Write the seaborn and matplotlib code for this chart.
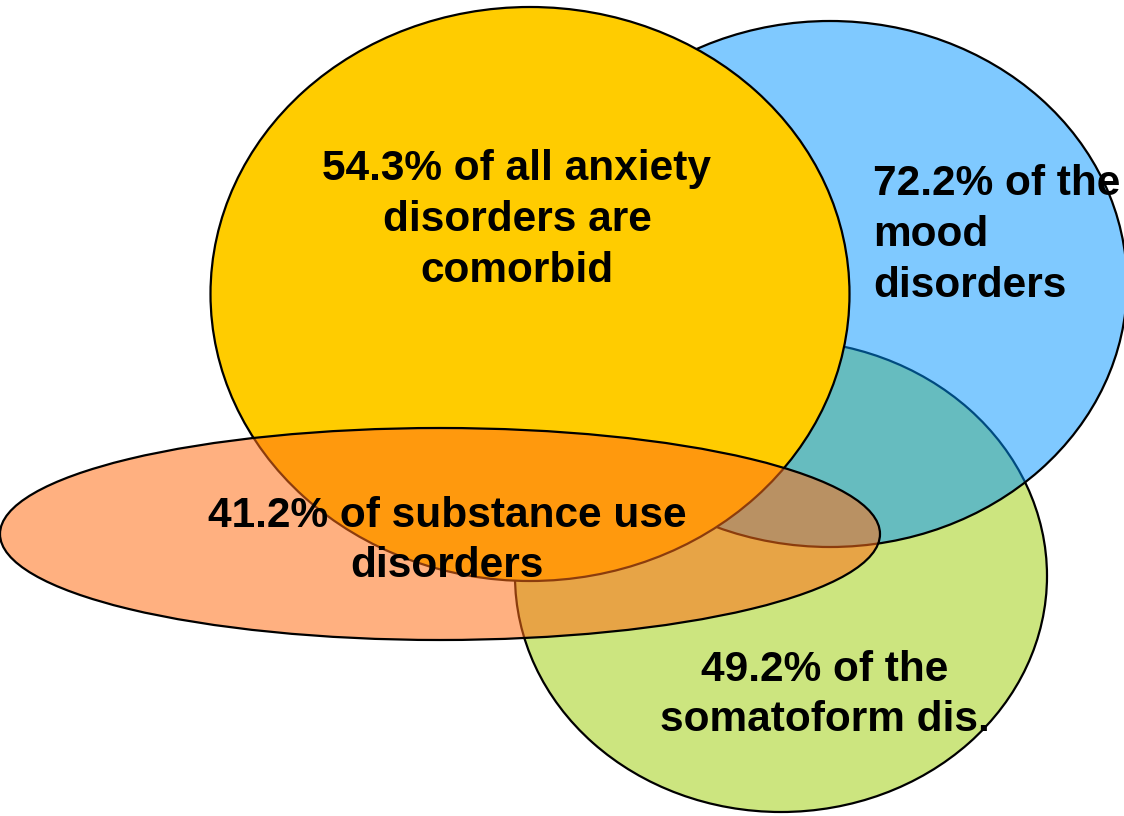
import matplotlib
matplotlib.use("Agg")
import matplotlib.pyplot as plt
from matplotlib.patches import Ellipse
import seaborn as sns

# Comorbidity overlap between disorder groups
groups = ["mood", "somatoform", "anxiety", "substance"]
percent = [72.2, 49.2, 54.3, 41.2]
labels = [
    "72.2% of the\nmood\ndisorders",
    "49.2% of the\nsomatoform dis.",
    "54.3% of all anxiety\ndisorders are\ncomorbid",
    "41.2% of substance use\ndisorders",
]

# layout (pixel space of the slide), drawing order: green, blue, yellow, orange
order = ["somatoform", "mood", "anxiety", "substance"]
centers = {"mood": (830, 284), "somatoform": (781, 576),
           "anxiety": (530, 294), "substance": (440, 534)}
sizes = {"mood": (594, 526), "somatoform": (532, 472),
         "anxiety": (639, 574), "substance": (880, 212)}
colors = {"mood": "#0195FF", "somatoform": "#CCE57F",
          "anxiety": "#FFCC00", "substance": "#FF6F18"}
alphas = {"mood": 0.5, "somatoform": 1.0, "anxiety": 1.0, "substance": 0.55}
text_pos = {"mood": (873, 235, "left"), "somatoform": (825, 695, "center"),
            "anxiety": (517, 220, "center"), "substance": (447, 541, "center")}

sns.set_theme(style="white")
plt.rcParams["font.family"] = ["Liberation Sans", "DejaVu Sans"]

fig = plt.figure(figsize=(11.24, 8.16), dpi=100)
ax = fig.add_axes([0, 0, 1, 1])
ax.set_xlim(0, 1124)
ax.set_ylim(816, 0)
ax.axis("off")

for g in order:
    w, h = sizes[g]
    # translucent fill, solid black outline
    ax.add_patch(Ellipse(centers[g], w, h, facecolor=colors[g], alpha=alphas[g],
                         edgecolor="none"))
    ax.add_patch(Ellipse(centers[g], w, h, facecolor="none", edgecolor="black",
                         linewidth=1.6))

for g, lab in zip(groups, labels):
    x, y, ha = text_pos[g]
    ax.text(x, y, lab, ha=ha, va="center", fontsize=30.5, fontweight="bold",
            color="black", linespacing=1.34)

fig.savefig("out.png", dpi=100)
